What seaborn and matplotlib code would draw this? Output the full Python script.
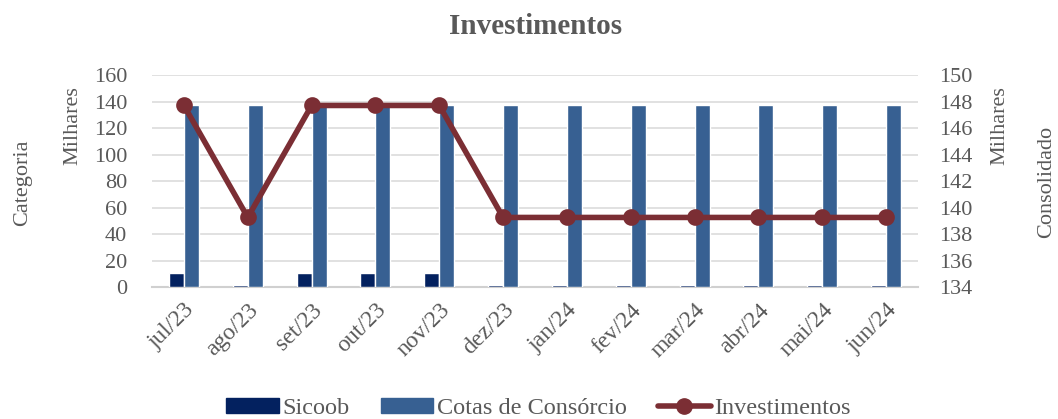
import seaborn as sns
import pandas as pd
import matplotlib.pyplot as plt
from matplotlib.patches import Patch
from matplotlib.lines import Line2D

# Dados (em milhares)
meses = ['jul/23', 'ago/23', 'set/23', 'out/23', 'nov/23', 'dez/23',
         'jan/24', 'fev/24', 'mar/24', 'abr/24', 'mai/24', 'jun/24']
sicoob = [10.5, 1.6, 10.5, 10.5, 10.5, 1.6, 1.6, 1.6, 1.6, 1.6, 1.6, 1.6]
cotas = [137.2] * 12
investimentos = [147.7, 139.25, 147.7, 147.7, 147.7, 139.25,
                 139.25, 139.25, 139.25, 139.25, 139.25, 139.25]

cor_sicoob = '#03215F'
cor_cotas = '#376092'
cor_linha = '#7B2E34'
cinza = '#595959'


def main():
    sns.set_style('white')
    plt.rcParams['font.family'] = ['Liberation Serif', 'DejaVu Serif']

    df = pd.DataFrame({'mes': meses * 2,
                       'valor': sicoob + cotas,
                       'serie': ['Sicoob'] * 12 + ['Cotas de Consórcio'] * 12})

    fig = plt.figure(figsize=(10.58, 4.19), dpi=100)
    ax = fig.add_axes([0.1437, 0.315, 0.724, 0.506])

    # barras agrupadas (eixo principal)
    sns.barplot(data=df, x='mes', y='valor', hue='serie',
                palette=[cor_sicoob, cor_cotas], saturation=1, width=0.47,
                ax=ax, legend=False, zorder=3)

    # linha no eixo secundário
    ax2 = ax.twinx()
    sns.pointplot(x=meses, y=investimentos, color=cor_linha, ax=ax2,
                  markersize=9, linewidth=4)

    ax.set_ylim(0, 160)
    ax.set_yticks(range(0, 161, 20))
    ax2.set_ylim(134, 150)
    ax2.set_yticks(range(134, 151, 2))
    ax.set_xlim(-0.5, 11.5)

    ax.grid(axis='y', color='#D9D9D9', linewidth=1.1)
    ax.set_axisbelow(True)
    for a in (ax, ax2):
        for s in ['top', 'left', 'right', 'bottom']:
            a.spines[s].set_visible(False)
        a.tick_params(length=0, labelsize=16, colors=cinza)
        a.set_xlabel('')
        a.set_ylabel('')
    ax.spines['bottom'].set_visible(True)
    ax.spines['bottom'].set_color('#D0D0D0')
    ax.spines['bottom'].set_linewidth(1.5)
    ax.spines['bottom'].set_zorder(1)

    ax.set_xticks(range(len(meses)))
    ax.set_xticklabels(meses, rotation=45, ha='right', rotation_mode='anchor')
    ax.tick_params(axis='x', pad=9, labelsize=17)
    ax.tick_params(axis='y', pad=18)
    ax2.tick_params(axis='y', pad=15)

    # Títulos e rótulos
    fig.text(0.506, 0.937, 'Investimentos', ha='center', va='center',
             fontsize=21, fontweight='bold', color=cinza)
    fig.text(0.069, 0.70, 'Milhares', rotation=90, ha='center', va='center',
             fontsize=16, color=cinza)
    fig.text(0.021, 0.565, 'Categoria', rotation=90, ha='center', va='center',
             fontsize=16, color=cinza)
    fig.text(0.945, 0.70, 'Milhares', rotation=90, ha='center', va='center',
             fontsize=16, color=cinza)
    fig.text(0.989, 0.565, 'Consolidado', rotation=90, ha='center', va='center',
             fontsize=16, color=cinza)

    # Legenda
    handles = [Patch(color=cor_sicoob, label='Sicoob'),
               Patch(color=cor_cotas, label='Cotas de Consórcio'),
               Line2D([], [], color=cor_linha, linewidth=4, marker='o',
                      markersize=11, label='Investimentos')]
    fig.legend(handles=handles, loc='center', bbox_to_anchor=(0.509, 0.025),
               ncol=3, frameon=False, fontsize=17.5, labelcolor=cinza,
               handlelength=2.15, handleheight=0.55, handletextpad=0.15,
               columnspacing=1.3)

    fig.savefig('out.png', dpi=100)


if __name__ == '__main__':
    main()
